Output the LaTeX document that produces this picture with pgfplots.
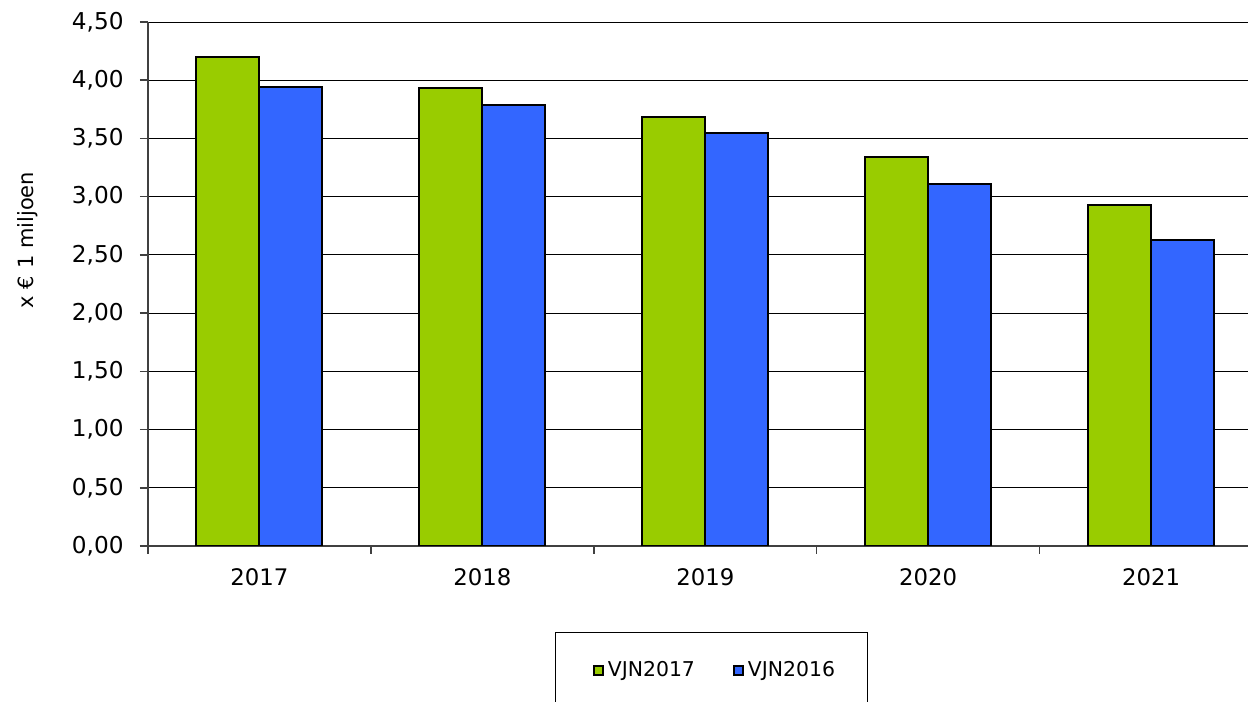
\documentclass[border=0pt]{standalone}
\usepackage{pgfplots}
\pgfplotsset{compat=1.18}
\usepackage{fontspec}
\setmainfont{DejaVu Sans}
\definecolor{vgreen}{HTML}{99CC00}
\definecolor{vblue}{HTML}{3366FF}
\definecolor{axgray}{HTML}{404040}
\begin{document}
\begin{tikzpicture}
\begin{axis}[
  name=ax,
  scale only axis, width=550bp, height=262bp,
  xmin=-0.5, xmax=4.435, ymin=0, ymax=4.5,
  ybar=0pt, bar width=0.2825,
  axis lines=left, axis line style={-, draw=axgray, line width=1bp},
  ytick={0,0.5,1,1.5,2,2.5,3,3.5,4,4.5},
  ymajorgrids, grid style={black, line width=0.5bp},
  xtick={-0.5,0.5,1.5,2.5,3.5},
  xticklabels={2017,2018,2019,2020,2021},
  xticklabel style={anchor=north, inner sep=0pt, xshift=55.75bp, yshift=-7bp, font=\fontsize{11.4bp}{13bp}\selectfont},
  yticklabel style={anchor=east, inner sep=0pt, xshift=-8bp, font=\fontsize{11.6bp}{13bp}\selectfont},
  tick align=outside, major tick length=4bp, tick style={draw=axgray, line width=0.75bp},
  ylabel={x € 1 miljoen},
  ylabel style={at={(axis description cs:-0.1095,0.584)}, anchor=center, inner sep=0pt, font=\fontsize{10.5bp}{12bp}\selectfont},
  legend columns=2,
  legend style={at={(axis description cs:0.5127,-0.1641)}, anchor=north, draw=black, line width=0.5bp,
    font=\fontsize{10.2bp}{11bp}\selectfont, inner xsep=14.5bp, inner ysep=12.5bp,
    /tikz/every even column/.append style={column sep=13bp}},
  legend image code/.code={\path (-4bp,0bp); \draw[#1, line width=0.9bp] (0bp,-2.25bp) rectangle (4.5bp,2.25bp);},
  /pgf/number format/.cd, fixed, fixed zerofill, precision=2, use comma, assume math mode=true,
]
\addplot[fill=vgreen, draw=black, line width=1bp] coordinates {(0,4.20) (1,3.93) (2,3.685) (3,3.34) (4,2.93)};
\addplot[fill=vblue, draw=black, line width=1bp] coordinates {(0,3.94) (1,3.785) (2,3.545) (3,3.11) (4,2.63)};
\legend{VJN2017, VJN2016}
\end{axis}
\pgfresetboundingbox
\path ([shift={(-74bp,-78bp)}]ax.south west) rectangle ([shift={(0bp,11bp)}]ax.north east);
\end{tikzpicture}
\end{document}
